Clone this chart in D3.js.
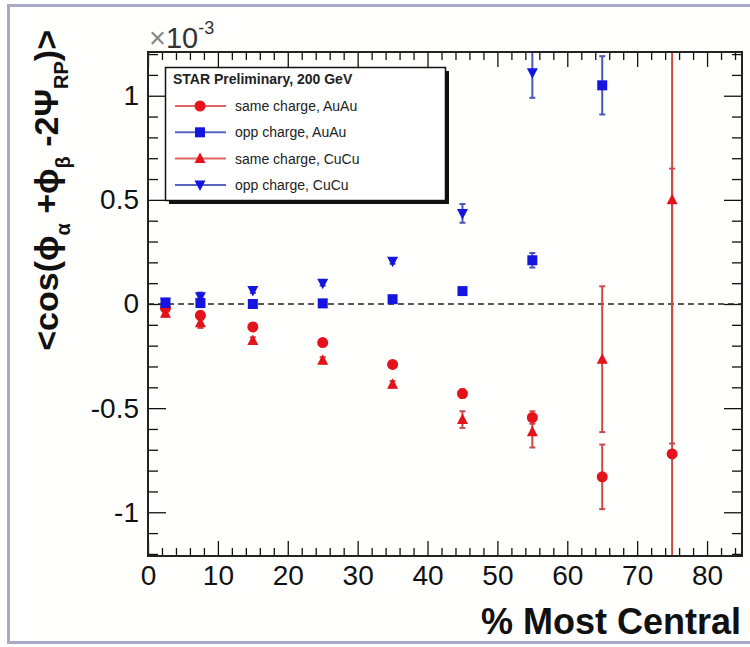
<!DOCTYPE html>
<html><head><meta charset="utf-8">
<script src="https://cdn.jsdelivr.net/npm/d3@7"></script>
<style>
html,body{margin:0;padding:0;background:#fff;}
svg{display:block;font-family:"Liberation Sans",Arial,sans-serif;}
</style></head>
<body><svg id="c" width="750" height="647"></svg>
<script>
// centrality bins (% most central)
const centrality = [2.5, 7.5, 15, 25, 35, 45, 55, 65, 75];
// values in units of 1e-3
const sameAuAu    = [-0.02, -0.055, -0.11, -0.185, -0.29, -0.43, -0.545, -0.83, -0.72];
const sameAuAuErr = [0.015, 0.02, 0.015, 0.015, 0.015, 0.02, 0.03, 0.155, 1.37];
const oppAuAu     = [0.005, 0.005, 0.0, 0.003, 0.023, 0.062, 0.21, 1.05];
const oppAuAuErr  = [0.015, 0.02, 0.012, 0.012, 0.012, 0.012, 0.035, 0.14];
const sameCuCu    = [-0.045, -0.09, -0.175, -0.27, -0.385, -0.555, -0.614, -0.265, 0.5];
const sameCuCuErr = [0.015, 0.025, 0.015, 0.015, 0.015, 0.04, 0.075, 0.35, 1.17];
const oppCuCu     = [0.01, 0.035, 0.065, 0.10, 0.205, 0.435, 1.11];
const oppCuCuErr  = [0.015, 0.02, 0.012, 0.012, 0.012, 0.045, 0.12];
const xTicks = [0, 10, 20, 30, 40, 50, 60, 70, 80];
const yTicks = [-1, -0.5, 0, 0.5, 1];
const legendHeader = "STAR Preliminary, 200 GeV";

const series = [
  {label:"same charge, AuAu", vals:sameAuAu, errs:sameAuAuErr, shape:"circle",  color:"#e4121b", err:"#c94a4a", leg:"#e06464"},
  {label:"opp charge, AuAu",  vals:oppAuAu,  errs:oppAuAuErr,  shape:"square",  color:"#1515e0", err:"#4a58b4", leg:"#5866c0"},
  {label:"same charge, CuCu", vals:sameCuCu, errs:sameCuCuErr, shape:"tri",     color:"#e4121b", err:"#c94a4a", leg:"#e06464"},
  {label:"opp charge, CuCu",  vals:oppCuCu,  errs:oppCuCuErr,  shape:"tridown", color:"#1515e0", err:"#4a58b4", leg:"#5866c0"}
];

const svg = d3.select("#c");
const L = 148, R = 742, T = 52, B = 556;
const x = d3.scaleLinear().domain([0, 85]).range([L, R]);
const y = d3.scaleLinear().domain([-1.21, 1.21]).range([B, T]);

// outer border
svg.append("rect").attr("x",8.5).attr("y",5.5).attr("width",760).attr("height",637)
  .attr("fill","#fffffe").attr("stroke","#a7a9c6").attr("stroke-width",3);

// axes
const xMinor = d3.range(0, 85.01, 2).filter(v => v % 10 !== 0);
const yMinor = d3.range(-12, 12.01, 1).map(v => v/10).filter(v => Math.abs(v*2 - Math.round(v*2)) > 1e-6);
const fmt = d => d === 0 ? "0" : String(d);

function styleAxis(g){
  g.select(".domain").remove();
  g.selectAll(".tick line").attr("stroke","#111").attr("stroke-width",1.3);
  g.selectAll("text").attr("fill","#111").attr("font-size",28).attr("font-family","Liberation Sans, Arial, sans-serif");
}
svg.append("g").attr("transform",`translate(0,${B})`)
  .call(d3.axisBottom(x).tickValues(xTicks).tickSize(-15).tickSizeOuter(0).tickPadding(9).tickFormat(fmt)).call(styleAxis);
svg.append("g").attr("transform",`translate(0,${B})`)
  .call(d3.axisBottom(x).tickValues(xMinor).tickSize(-8).tickSizeOuter(0).tickFormat("")).call(styleAxis);
svg.append("g").attr("transform",`translate(0,${T})`)
  .call(d3.axisTop(x).tickValues(xTicks).tickSize(-15).tickSizeOuter(0).tickFormat("")).call(styleAxis);
svg.append("g").attr("transform",`translate(0,${T})`)
  .call(d3.axisTop(x).tickValues(xMinor).tickSize(-8).tickSizeOuter(0).tickFormat("")).call(styleAxis);
svg.append("g").attr("transform",`translate(${L},0)`)
  .call(d3.axisLeft(y).tickValues(yTicks).tickSize(-18).tickSizeOuter(0).tickPadding(9).tickFormat(fmt)).call(styleAxis);
svg.append("g").attr("transform",`translate(${L},0)`)
  .call(d3.axisLeft(y).tickValues(yMinor).tickSize(-10).tickSizeOuter(0).tickFormat("")).call(styleAxis);
svg.append("g").attr("transform",`translate(${R},0)`)
  .call(d3.axisRight(y).tickValues(yTicks).tickSize(-18).tickSizeOuter(0).tickFormat("")).call(styleAxis);
svg.append("g").attr("transform",`translate(${R},0)`)
  .call(d3.axisRight(y).tickValues(yMinor).tickSize(-10).tickSizeOuter(0).tickFormat("")).call(styleAxis);

// zero line
svg.append("line").attr("x1",L).attr("x2",R).attr("y1",y(0)).attr("y2",y(0))
  .attr("stroke","#222").attr("stroke-width",1.6).attr("stroke-dasharray","6,4");

// clip
svg.append("clipPath").attr("id","clip").append("rect").attr("x",L).attr("y",T).attr("width",R-L).attr("height",B-T);
const plot = svg.append("g").attr("clip-path","url(#clip)");

function marker(g, shape, cx, cy, color, s){
  if(shape==="circle") g.append("circle").attr("cx",cx).attr("cy",cy).attr("r",5.5*s).attr("fill",color);
  else if(shape==="square") g.append("rect").attr("x",cx-5*s).attr("y",cy-5*s).attr("width",10*s).attr("height",10*s).attr("fill",color);
  else if(shape==="tri") g.append("path").attr("d",`M${cx},${cy-6*s}L${cx+5.5*s},${cy+4.5*s}L${cx-5.5*s},${cy+4.5*s}Z`).attr("fill",color);
  else g.append("path").attr("d",`M${cx},${cy+6*s}L${cx+5.5*s},${cy-4.5*s}L${cx-5.5*s},${cy-4.5*s}Z`).attr("fill",color);
}

series.forEach(s => {
  s.vals.forEach((v,i) => {
    const cx = x(centrality[i]);
    const e = s.errs[i];
    const y1 = y(v+e), y2 = y(v-e);
    plot.append("line").attr("x1",cx).attr("x2",cx).attr("y1",y1).attr("y2",y2)
      .attr("stroke",s.err).attr("stroke-width",2);
    [y1,y2].forEach(yy => plot.append("line").attr("x1",cx-3).attr("x2",cx+3).attr("y1",yy).attr("y2",yy)
      .attr("stroke",s.err).attr("stroke-width",2));
  });
});
series.forEach(s => {
  s.vals.forEach((v,i) => marker(plot, s.shape, x(centrality[i]), y(v), s.color, 1));
});

// frame
svg.append("rect").attr("x",L).attr("y",T).attr("width",R-L).attr("height",B-T)
  .attr("fill","none").attr("stroke","#222").attr("stroke-width",2);

// legend
const lg = svg.append("g");
lg.append("rect").attr("x",169).attr("y",71).attr("width",280).attr("height",133).attr("fill","#111");
lg.append("rect").attr("x",165.5).attr("y",67.5).attr("width",280).attr("height",133).attr("fill","#fff").attr("stroke","#111").attr("stroke-width",1.5);
lg.append("text").attr("x",173).attr("y",84).attr("font-size",14).attr("font-weight","bold").attr("fill","#222").text(legendHeader);
series.forEach((s,i) => {
  const yy = 106 + i*26.3;
  lg.append("line").attr("x1",175).attr("x2",226).attr("y1",yy).attr("y2",yy).attr("stroke",s.leg).attr("stroke-width",2);
  marker(lg, s.shape, 200, yy, s.color, 1);
  lg.append("text").attr("x",235).attr("y",yy+5).attr("font-size",14).attr("fill","#222").text(s.label);
});

// exponent
const ex = svg.append("text").attr("x",149).attr("y",48).attr("font-size",29).attr("fill","#333");
ex.append("tspan").attr("fill","#888").text("×");
ex.append("tspan").text("10");
ex.append("tspan").attr("font-size",18).attr("dy",-14).text("-3");

// x title
svg.append("text").attr("x",741).attr("y",634).attr("text-anchor","end").attr("font-size",36)
  .attr("font-weight","bold").attr("fill","#111").text("% Most Central");

// y title
const yt = svg.append("text").attr("transform","translate(58,30) rotate(-90)").attr("text-anchor","end")
  .attr("font-size",34).attr("font-weight","bold").attr("fill","#111");
yt.append("tspan").text("<cos(ϕ");
yt.append("tspan").attr("font-size",20).attr("dy",12).text("α");
yt.append("tspan").attr("dy",-12).text(" +ϕ");
yt.append("tspan").attr("font-size",20).attr("dy",12).text("β");
yt.append("tspan").attr("dy",-12).text(" -2Ψ");
yt.append("tspan").attr("font-size",20).attr("dy",10).text("RP");
yt.append("tspan").attr("dy",-10).text(")>");
</script></body></html>
